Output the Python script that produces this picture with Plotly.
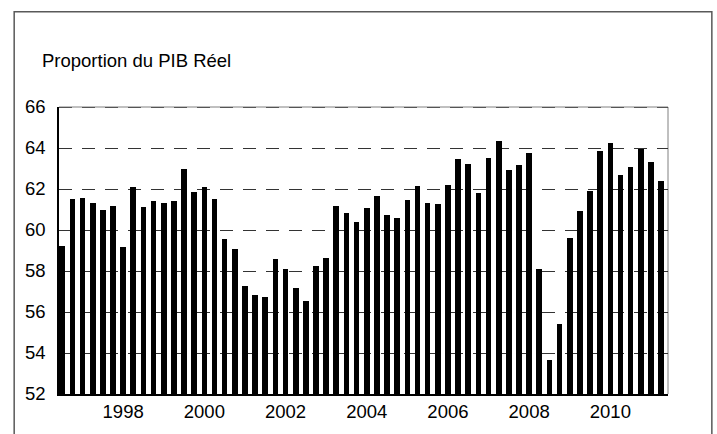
import plotly.graph_objects as go

# Quarterly share of real GDP, 1996 Q3 to 2011 Q2
years = [1996, 1996,
         1997, 1997, 1997, 1997,
         1998, 1998, 1998, 1998,
         1999, 1999, 1999, 1999,
         2000, 2000, 2000, 2000,
         2001, 2001, 2001, 2001,
         2002, 2002, 2002, 2002,
         2003, 2003, 2003, 2003,
         2004, 2004, 2004, 2004,
         2005, 2005, 2005, 2005,
         2006, 2006, 2006, 2006,
         2007, 2007, 2007, 2007,
         2008, 2008, 2008, 2008,
         2009, 2009, 2009, 2009,
         2010, 2010, 2010, 2010,
         2011, 2011]
quarters = [3, 4] + [1, 2, 3, 4] * 14 + [1, 2]
share = [59.2, 61.5,
         61.55, 61.3, 61.0, 61.15,
         59.15, 62.1, 61.1, 61.4,
         61.3, 61.4, 63.0, 61.85,
         62.1, 61.5, 59.55, 59.05,
         57.25, 56.85, 56.75, 58.6,
         58.1, 57.15, 56.55, 58.25,
         58.65, 61.15, 60.85, 60.4,
         61.05, 61.65, 60.75, 60.6,
         61.45, 62.15, 61.3, 61.25,
         62.2, 63.45, 63.2, 61.8,
         63.5, 64.35, 62.95, 63.15,
         63.75, 58.1, 53.65, 55.4,
         59.6, 60.95, 61.9, 63.85,
         64.25, 62.7, 63.05, 63.95,
         63.3, 62.4]
tick_years = [1998, 2000, 2002, 2004, 2006, 2008, 2010]
y_ticks = [52, 54, 56, 58, 60, 62, 64, 66]

x_pos = [y + (q - 1) / 4 for y, q in zip(years, quarters)]

FONT = "Liberation Sans, Arial, sans-serif"
GRID_DASH = "13px,10px"

fig = go.Figure(
    go.Bar(
        x=x_pos,
        y=share,
        width=0.14,
        marker=dict(color="black", line=dict(width=0)),
        hoverinfo="x+y",
    )
)

fig.update_layout(
    width=717,
    height=434,
    margin=dict(l=59, r=49, t=107, b=31),
    paper_bgcolor="white",
    plot_bgcolor="white",
    showlegend=False,
    font=dict(family=FONT, size=18.5, color="black"),
    bargap=0,
)

fig.update_xaxes(
    range=[1996.42, 2011.42],
    tickmode="array",
    tickvals=tick_years,
    ticktext=[str(t) for t in tick_years],
    showgrid=False,
    zeroline=False,
    showline=True,
    linecolor="black",
    linewidth=1.5,
    ticks="",
    ticklen=0,
    tickfont=dict(family=FONT, size=18.5, color="black"),
)

fig.update_yaxes(
    range=[52, 66],
    tickmode="array",
    tickvals=y_ticks,
    showgrid=True,
    gridcolor="#333333",
    gridwidth=1.4,
    griddash=GRID_DASH,
    zeroline=False,
    showline=True,
    linecolor="black",
    linewidth=1.5,
    ticks="",
    ticklabelstandoff=8,
    tickfont=dict(family=FONT, size=18.5, color="black"),
)

# thin grey frame on the top and right sides of the plotting area
fig.add_shape(type="line", xref="paper", yref="paper", x0=0, x1=1, y0=1, y1=1,
              line=dict(color="#808080", width=1), layer="below")
fig.add_shape(type="line", xref="paper", yref="paper", x0=1, x1=1, y0=0, y1=1,
              line=dict(color="#808080", width=1), layer="below")
# dashed gridline at the top value of the scale
fig.add_shape(type="line", xref="paper", yref="y", x0=0, x1=1, y0=66, y1=66,
              line=dict(color="#333333", width=1.4, dash=GRID_DASH), layer="above")

# outer frame around the whole chart
fig.add_shape(type="rect", xref="paper", yref="paper",
              x0=-0.0736, x1=1.072, y0=-0.2, y1=1.332,
              line=dict(color="#595959", width=1.5), layer="below")

fig.add_annotation(
    text="Proportion du PIB Réel",
    xref="paper", yref="paper",
    x=-0.031, y=1.163,
    xanchor="left", yanchor="middle",
    showarrow=False,
    font=dict(family=FONT, size=18.5, color="black"),
)

fig.write_html("out.html")
